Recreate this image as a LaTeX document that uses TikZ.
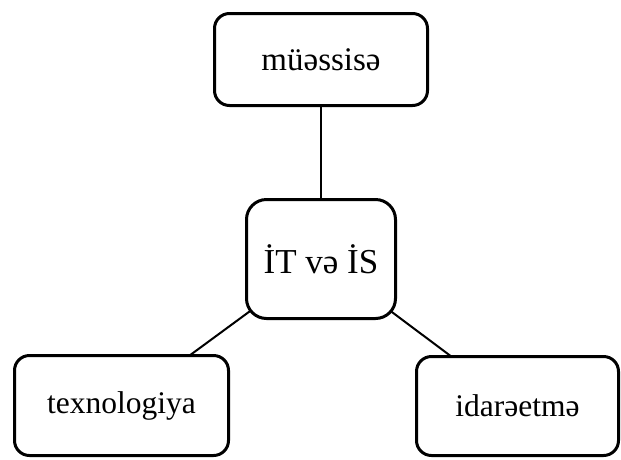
\documentclass[tikz,border=0pt]{standalone}
\usepackage{fontspec}
\setmainfont{Liberation Serif}
\usetikzlibrary{backgrounds}
\begin{document}
\begin{tikzpicture}[x=1pt,y=-1pt,
  topic/.style={draw=black, line width=3pt, rounded corners=15pt, fill=white,
    inner sep=0pt, font=\fontsize{31.5}{36}\selectfont},
  link/.style={draw=black, line width=2pt}]
  \useasboundingbox (0,0) rectangle (621,459);
  % central topic and the three areas around it
  \node[topic, rounded corners=20pt, minimum width=149pt, minimum height=119pt,
        font=\fontsize{35}{40}\selectfont] (core) at (321,259) {İT və İS};
  \node[topic, minimum width=213pt, minimum height=92pt,
        font=\fontsize{33}{38}\selectfont] (org) at (321,59.5) {müəssisə};
  \node[topic, minimum width=214pt, minimum height=100pt] (tech) at (121.5,405.5) {texnologiya};
  \node[topic, minimum width=202pt, minimum height=99pt] (mgmt) at (517.5,406) {idarəetmə};
  % connectors run centre to centre, hidden behind the filled boxes
  \begin{pgfonlayer}{background}
    \draw[link] (core.center) -- (org.center);
    \draw[link] (core.center) -- (tech.center);
    \draw[link] (core.center) -- (mgmt.center);
  \end{pgfonlayer}
\end{tikzpicture}
\end{document}
